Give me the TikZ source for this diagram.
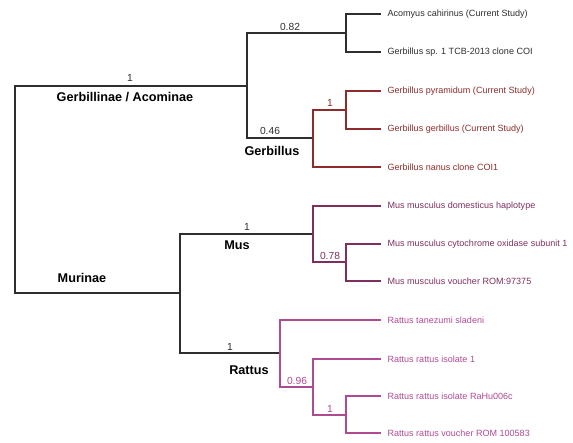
\documentclass[tikz,border=0pt]{standalone}
\usepackage{fontspec}
\setmainfont{Liberation Sans}
\definecolor{blk}{HTML}{2E2E2E}
\definecolor{gred}{HTML}{8E2C2C}
\definecolor{mpur}{HTML}{7E2F5E}
\definecolor{rmag}{HTML}{B04A92}
\begin{document}
\begin{tikzpicture}[x=0.75pt,y=-0.75pt,
  edge/.style={line width=1.05pt,line cap=rect},
  leaf/.style={anchor=west,inner sep=0pt,xshift=5.5pt,font=\fontsize{6.78}{8}\selectfont},
  supp/.style={inner sep=0pt,font=\fontsize{7.7}{9}\selectfont},
  clade/.style={inner sep=0pt,font=\bfseries\fontsize{9.5}{11}\selectfont}]
\useasboundingbox (0,0) rectangle (573,442);
% internal nodes
\coordinate (root) at (15,190);
\coordinate (G) at (247,86);
\coordinate (AC) at (346,33);
\coordinate (Gb) at (313,138);
\coordinate (Gp) at (346,110);
\coordinate (M) at (180,293);
\coordinate (Mu) at (313,234);
\coordinate (Mc) at (346,262);
\coordinate (R) at (280,353);
\coordinate (R2) at (313,387);
\coordinate (R3) at (346,415);
% leaves
\coordinate (l1) at (380,14);
\coordinate (l2) at (380,52);
\coordinate (l3) at (380,91);
\coordinate (l4) at (380,129);
\coordinate (l5) at (380,167);
\coordinate (l6) at (380,206);
\coordinate (l7) at (380,244);
\coordinate (l8) at (380,281);
\coordinate (l9) at (380,320);
\coordinate (l10) at (380,359);
\coordinate (l11) at (380,396);
\coordinate (l12) at (380,433);
% black edges
\draw[edge,blk] (root) |- (G);
\draw[edge,blk] (root) |- (M);
\draw[edge,blk] (G) |- (AC);
\draw[edge,blk] (G) |- (Gb);
\draw[edge,blk] (AC) |- (l1);
\draw[edge,blk] (AC) |- (l2);
\draw[edge,blk] (M) |- (Mu);
\draw[edge,blk] (M) |- (R);
% Gerbillus clade
\draw[edge,gred] (Gb) |- (Gp);
\draw[edge,gred] (Gb) |- (l5);
\draw[edge,gred] (Gp) |- (l3);
\draw[edge,gred] (Gp) |- (l4);
% Mus clade
\draw[edge,mpur] (Mu) |- (l6);
\draw[edge,mpur] (Mu) |- (Mc);
\draw[edge,mpur] (Mc) |- (l7);
\draw[edge,mpur] (Mc) |- (l8);
% Rattus clade
\draw[edge,rmag] (R) |- (l9);
\draw[edge,rmag] (R) |- (R2);
\draw[edge,rmag] (R2) |- (l10);
\draw[edge,rmag] (R2) |- (R3);
\draw[edge,rmag] (R3) |- (l11);
\draw[edge,rmag] (R3) |- (l12);
% leaf labels
\node[leaf,blk] (t1) at (l1) {Acomyus cahirinus (Current Study)};
\node[leaf,blk] (t2) at (l2) {Gerbillus sp. 1 TCB-2013 clone COI};
\node[leaf,gred] (t3) at (l3) {Gerbillus pyramidum (Current Study)};
\node[leaf,gred] (t4) at (l4) {Gerbillus gerbillus (Current Study)};
\node[leaf,gred] (t5) at (l5) {Gerbillus nanus clone COI1};
\node[leaf,mpur] (t6) at (l6) {Mus musculus domesticus haplotype};
\node[leaf,mpur] (t7) at (l7) {Mus musculus cytochrome oxidase subunit 1};
\node[leaf,mpur] (t8) at (l8) {Mus musculus voucher ROM:97375};
\node[leaf,rmag] (t9) at (l9) {Rattus tanezumi sladeni};
\node[leaf,rmag] (t10) at (l10) {Rattus rattus isolate 1};
\node[leaf,rmag] (t11) at (l11) {Rattus rattus isolate RaHu006c};
\node[leaf,rmag] (t12) at (l12) {Rattus rattus voucher ROM 100583};
% support values
\node[supp,blk] (s1) at (130,78) {1};
\node[supp,blk] (s2) at (290,27) {0.82};
\node[supp,blk] (s3) at (270,131) {0.46};
\node[supp,gred] (s4) at (330,103) {1};
\node[supp,blk] (s5) at (247,227) {1};
\node[supp,mpur] (s6) at (330,256) {0.78};
\node[supp,blk] (s7) at (230,347) {1};
\node[supp,rmag] (s8) at (297,381) {0.96};
\node[supp,rmag] (s9) at (330,409) {1};
% clade names
\node[clade,black] (c1) at (125,97) {Gerbillinae / Acominae};
\node[clade,black] (c2) at (272,151) {Gerbillus};
\node[clade,black] (c3) at (237,245) {Mus};
\node[clade,black] (c4) at (82,278) {Murinae};
\node[clade,black] (c5) at (249,370) {Rattus};
\end{tikzpicture}
\end{document}
